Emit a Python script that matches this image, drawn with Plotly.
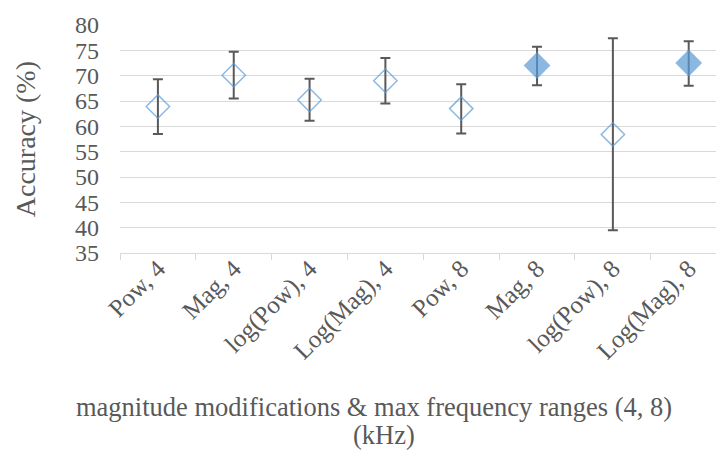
import plotly.graph_objects as go

categories = ["Pow, 4", "Mag, 4", "log(Pow), 4", "Log(Mag), 4",
              "Pow, 8", "Mag, 8", "log(Pow), 8", "Log(Mag), 8"]
accuracy = [63.9, 70.1, 65.2, 69.0, 63.5, 72.0, 58.4, 72.5]
err_plus = [5.4, 4.6, 4.2, 4.5, 4.8, 3.7, 19.0, 4.3]
err_minus = [5.4, 4.6, 4.1, 4.5, 4.9, 3.9, 18.9, 4.5]
filled = [False, False, False, False, False, True, False, True]

blue = "#5b9bd5"
gray = "#595959"
grid = "#d9d9d9"
font = "Liberation Serif"

fig = go.Figure()
fig.add_trace(go.Scatter(
    x=categories, y=accuracy, mode="markers",
    marker=dict(
        symbol=["diamond" if f else "diamond-open" for f in filled],
        size=[19 if f else 18 for f in filled],
        color=blue, line=dict(color=blue, width=1.5)),
    error_y=dict(type="data", symmetric=False, array=err_plus, arrayminus=err_minus,
                 color=gray, thickness=2, width=5),
    showlegend=False, cliponaxis=False, hoverinfo="skip",
))

fig.update_layout(
    width=716, height=450,
    margin=dict(l=120, r=0, t=25, b=197),
    paper_bgcolor="white", plot_bgcolor="white",
    font=dict(family=font, color=gray),
    xaxis=dict(
        type="category", range=[-0.5, 7.36], automargin=False,
        showgrid=False, showline=True, linecolor=grid, linewidth=1.3,
        ticks="outside", tickson="boundaries", ticklen=6, tickcolor=grid, tickwidth=1.3,
        tickangle=-45, ticklabelstandoff=-10,
        tickfont=dict(size=25, color=gray, family=font),
    ),
    yaxis=dict(
        range=[35, 80], dtick=5, tick0=35, automargin=False,
        showgrid=True, gridcolor=grid, gridwidth=1.3, zeroline=False,
        showline=False, ticks="", ticklabelstandoff=20,
        tickfont=dict(size=24, color=gray, family=font),
    ),
    annotations=[
        dict(text="Accuracy (%)", xref="paper", yref="paper",
             x=-0.159, y=0.5, textangle=-90, showarrow=False,
             xanchor="center", yanchor="middle",
             font=dict(size=28, color=gray, family=font)),
        dict(text="magnitude modifications & max frequency ranges (4, 8)",
             xref="paper", yref="paper", x=(374 - 120) / 596, y=-(407 - 253) / 228,
             xanchor="center", yanchor="middle", showarrow=False,
             font=dict(size=26.5, color=gray, family=font)),
        dict(text="(kHz)",
             xref="paper", yref="paper", x=(384 - 120) / 596, y=-(435 - 253) / 228,
             xanchor="center", yanchor="middle", showarrow=False,
             font=dict(size=26.5, color=gray, family=font)),
    ],
)

fig.write_html("out.html", config={"displayModeBar": False},
               post_script="document.body.style.margin='0';document.body.style.overflow='hidden';")
